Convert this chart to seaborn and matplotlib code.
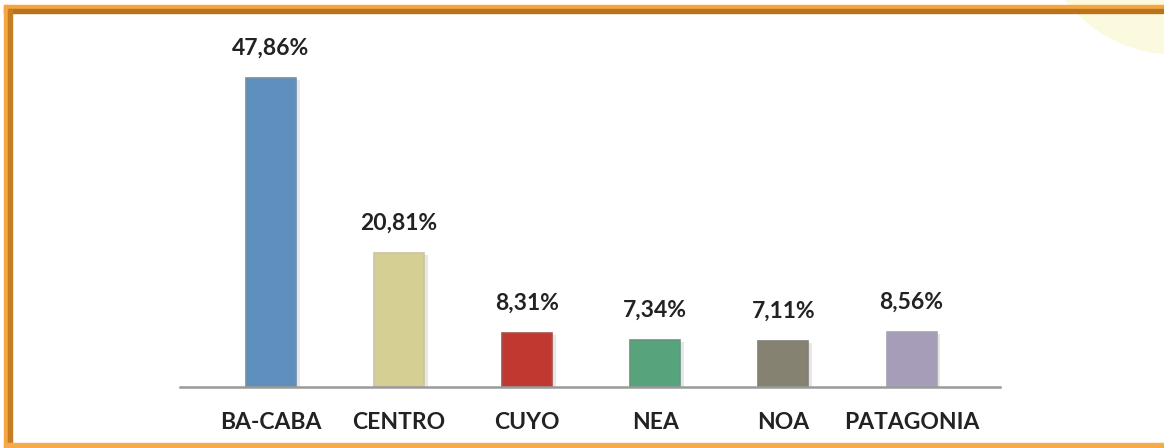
import matplotlib
matplotlib.use("Agg")
import matplotlib.pyplot as plt
from matplotlib.patches import Rectangle, Circle
import seaborn as sns
import pandas as pd

regions = ["BA-CABA", "CENTRO", "CUYO", "NEA", "NOA", "PATAGONIA"]
values = [47.86, 20.81, 8.31, 7.34, 7.11, 8.56]
labels = ["47,86%", "20,81%", "8,31%", "7,34%", "7,11%", "8,56%"]
colors = ["#5f8fbd", "#d6cf94", "#c0382f", "#57a47c", "#858271", "#a69db8"]

sns.set_theme(style="white")
plt.rcParams['font.family'] = ['Lato', 'DejaVu Sans']

W, H = 1164, 448
fig = plt.figure(figsize=(W / 100, H / 100), dpi=100)
fig.patch.set_facecolor("white")

# background decorations in figure pixel coords
bg = fig.add_axes([0, 0, 1, 1])
bg.set_xlim(0, W)
bg.set_ylim(H, 0)
bg.axis("off")
bg.add_patch(Circle((1175, -83), 137, color="#fbfadf", zorder=0))
# orange frame
bg.add_patch(Rectangle((4, 5), W, 4, color="#f6a640", zorder=1))
bg.add_patch(Rectangle((4, 9), W, 4, color="#b8731f", zorder=1))
bg.add_patch(Rectangle((4, 5), 4, H, color="#f6a640", zorder=1))
bg.add_patch(Rectangle((8, 9), 4, H, color="#c77d22", zorder=1))
bg.add_patch(Rectangle((4, 443), W, 5, color="#f5aa4c", zorder=2))

top_px = 20
base_px = 387
scale = 6.45
ax = fig.add_axes([180 / W, 1 - base_px / H, 820 / W, (base_px - top_px) / H])
ax.patch.set_alpha(0)

df = pd.DataFrame({"region": regions, "value": values})
sns.barplot(data=df, x="region", y="value", hue="region", palette=colors,
            legend=False, width=0.39, ax=ax, saturation=1, zorder=3)

for p, c in zip(ax.patches, colors):
    p.set_edgecolor(sns.desaturate(c, 0.6))
    p.set_linewidth(1.2)
    # soft shadow
    x0, w, h = p.get_x(), p.get_width(), p.get_height()
    ax.add_patch(Rectangle((x0 + 0.03, 0), w, h - 0.3, color="#d8d8d8",
                           alpha=0.6, zorder=2, lw=0))

ax.set_xlim(-0.71, 5.69)
ax.set_ylim(0, (base_px - top_px) / scale)
for s in ["top", "left", "right"]:
    ax.spines[s].set_visible(False)
ax.spines["bottom"].set_color("#9a9a9a")
ax.spines["bottom"].set_linewidth(1.8)
ax.spines["bottom"].set_zorder(4)
ax.set_yticks([])
ax.set_xlabel("")
ax.set_ylabel("")
ax.tick_params(axis="x", length=0, pad=18)
for t in ax.get_xticklabels():
    t.set_fontsize(16.5)
    t.set_fontweight("bold")
    t.set_color("#222222")

for i, (v, lab) in enumerate(zip(values, labels)):
    ax.annotate(lab, (i, v), xytext=(0, 14), textcoords="offset points",
                ha="center", va="bottom", fontsize=16.5, fontweight="bold",
                color="#222222", clip_on=False)

fig.savefig("out.png", dpi=100)
